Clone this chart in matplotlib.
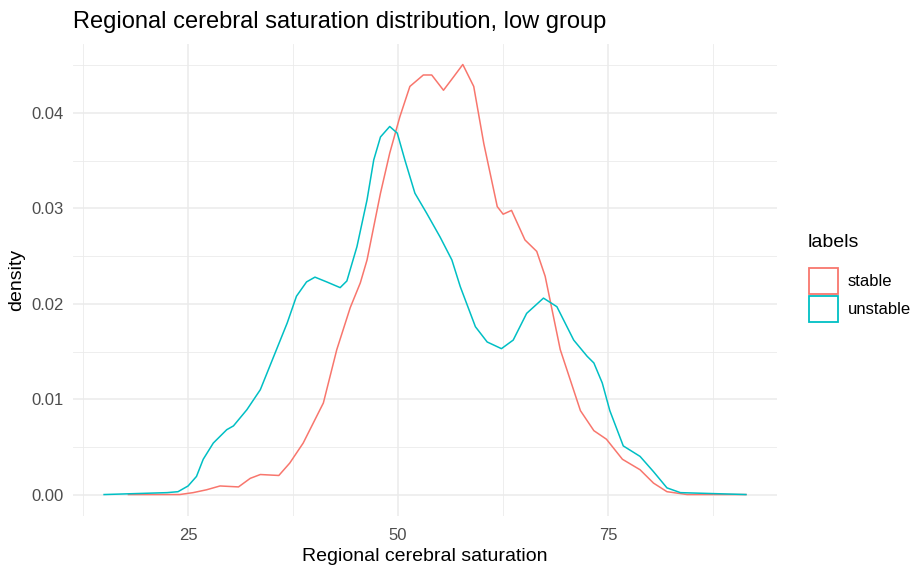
import matplotlib
matplotlib.use('Agg')
import matplotlib.pyplot as plt
from matplotlib.patches import Rectangle
from matplotlib.ticker import MultipleLocator

# density curves
stable_x = [17.9, 24.0, 25.6, 27.2, 28.8, 31.0, 32.4, 33.6, 35.8, 37.1, 38.7, 41.1,
            42.7, 44.3, 45.5, 46.3, 47.9, 49.0, 50.2, 51.4, 53.0, 54.0, 55.4, 56.6,
            57.7, 59.0, 60.2, 61.8, 62.5, 63.5, 65.1, 66.5, 67.5, 69.3, 71.7, 73.3,
            74.8, 76.7, 78.8, 80.4, 82.0, 84.4, 91.4]
stable_y = [0.0, 0.0, 0.0002, 0.0005, 0.0009, 0.0008, 0.0017, 0.0021, 0.0020, 0.0033,
            0.0054, 0.0096, 0.0152, 0.0196, 0.0222, 0.0246, 0.0316, 0.0358, 0.0396,
            0.0428, 0.0440, 0.0440, 0.0424, 0.0438, 0.0451, 0.0428, 0.0368, 0.0302,
            0.0294, 0.0298, 0.0267, 0.0255, 0.0229, 0.0152, 0.0088, 0.0067, 0.0058,
            0.0037, 0.0026, 0.0012, 0.0003, 0.0, 0.0]

unstable_x = [15.0, 22.5, 23.8, 25.0, 26.0, 26.8, 28.0, 29.6, 30.4, 32.0, 33.6, 35.2,
              36.8, 37.9, 39.1, 40.1, 41.5, 43.1, 43.9, 45.1, 46.3, 47.1, 47.9, 49.0,
              49.9, 50.8, 52.0, 53.4, 55.0, 56.4, 57.4, 59.2, 60.6, 62.3, 63.7, 65.3,
              67.3, 68.9, 70.9, 72.5, 73.3, 74.3, 75.2, 76.8, 78.8, 80.4, 82.0, 83.6, 91.4]
unstable_y = [0.0, 0.0002, 0.0003, 0.0009, 0.0019, 0.0037, 0.0054, 0.0068, 0.0072,
              0.0089, 0.0110, 0.0145, 0.0180, 0.0208, 0.0223, 0.0228, 0.0223, 0.0217,
              0.0224, 0.0260, 0.0309, 0.0351, 0.0375, 0.0386, 0.0379, 0.0351, 0.0316,
              0.0295, 0.0270, 0.0246, 0.0218, 0.0176, 0.0160, 0.0153, 0.0162, 0.0190,
              0.0206, 0.0197, 0.0162, 0.0145, 0.0138, 0.0117, 0.0088, 0.0051, 0.0040,
              0.0024, 0.0007, 0.0002, 0.0]

labels = ['stable', 'unstable']
colors = ['#F8766D', '#00BFC4']

plt.rcParams['font.family'] = ['Liberation Sans', 'DejaVu Sans']

W, H = 916, 572
fig = plt.figure(figsize=[W / 100, H / 100], dpi=100)
ax = fig.add_axes([73 / W, 1 - 516 / H, 704 / W, 472 / H])

ax.plot(stable_x, stable_y, color=colors[0], lw=1.1)
ax.plot(unstable_x, unstable_y, color=colors[1], lw=1.1)

ax.set_xlim(11.3, 95.1)
ax.set_ylim(-0.00225, 0.04725)
ax.xaxis.set_minor_locator(MultipleLocator(12.5))
ax.yaxis.set_minor_locator(MultipleLocator(0.005))
ax.set_xticks([25, 50, 75])
ax.set_yticks([0, 0.01, 0.02, 0.03, 0.04])
ax.set_yticklabels(['0.00', '0.01', '0.02', '0.03', '0.04'])
ax.grid(which='major', color='#EBEBEB', lw=1.1)
ax.grid(which='minor', color='#EBEBEB', lw=0.6)
ax.set_axisbelow(True)
for s in ax.spines.values():
    s.set_visible(False)
ax.tick_params(which='both', length=0, labelsize=12, labelcolor='#4D4D4D')
ax.tick_params(axis='x', pad=9)
ax.tick_params(axis='y', pad=7)

ax.set_xlabel('Regional cerebral saturation', fontsize=14, labelpad=3)
ax.set_ylabel('density', fontsize=14, labelpad=4)
fig.text(73 / W, 1 - 22 / H, 'Regional cerebral saturation distribution, low group',
         fontsize=17, va='center', ha='left')

# legend drawn by hand in figure pixels
fig.text(808 / W, 1 - 242 / H, 'labels', fontsize=14, va='center', ha='left')
for i, (lab, c) in enumerate(zip(labels, colors)):
    top = 267 + i * 28
    fig.add_artist(Rectangle((809 / W, 1 - (top + 27) / H), 29 / W, 26 / H,
                             transform=fig.transFigure, facecolor='white',
                             edgecolor=c, lw=1.3))
    fig.text(848 / W, 1 - (top + 14) / H, lab, fontsize=12, va='center', ha='left')

fig.savefig('out.png', dpi=100)
